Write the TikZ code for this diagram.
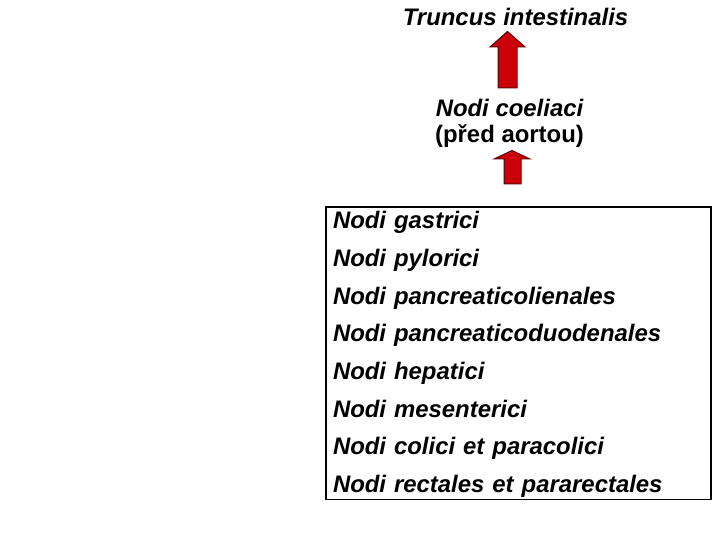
\documentclass[tikz,border=0pt]{standalone}
\usepackage{fontspec}
\setmainfont{Liberation Sans}
\usepackage{tikz}
\usetikzlibrary{positioning}

\definecolor{arrowred}{RGB}{204,0,8}
\definecolor{arrowrim}{RGB}{96,0,0}

\tikzset{
  station/.style={font=\fontsize{24}{26}\selectfont\bfseries, inner sep=0pt, align=center},
  lymph/.style={font=\fontsize{24}{26}\selectfont\bfseries\itshape, inner sep=0pt,
                text width=340bp, align=left, text height=18bp, text depth=6bp},
  redarrow/.style={fill=arrowred, draw=arrowrim, line width=1bp, line join=miter}
}

\begin{document}
\begin{tikzpicture}[x=1bp, y=-1bp, node distance=37.6bp]

\useasboundingbox (0,0) rectangle (720,540);

\node [station, anchor=base] (truncus)  at (515.5,26)  {\itshape Truncus intestinalis};
\node [station, anchor=base] (coeliaci) at (509.5,142.5) {\itshape Nodi coeliaci\\(před aortou)};

\node [lymph                    ] (gastrici)   at (503,223) {Nodi gastrici};
\node [lymph, below of=gastrici ] (pylorici)   {Nodi pylorici};
\node [lymph, below of=pylorici ] (lienales)   {Nodi pancreaticolienales};
\node [lymph, below of=lienales ] (duodenales) {Nodi pancreaticoduodenales};
\node [lymph, below of=duodenales] (hepatici)  {Nodi hepatici};
\node [lymph, below of=hepatici ] (mesenterici) {Nodi mesenterici};
\node [lymph, below of=mesenterici] (colici)   {Nodi colici et paracolici};
\node [lymph, below of=colici   ] (rectales)   {Nodi rectales et pararectales};

\draw [line width=1.2bp] (326,207) rectangle (711,499.5);

\draw [redarrow] (498,88) -- (498,47) -- (490,47) -- (507.5,31.5) -- (525,47) -- (517,47) -- (517,88) -- cycle;
\draw [redarrow] (504,184) -- (504,159) -- (494,159) -- (512,150.5) -- (530,159) -- (521,159) -- (521,184) -- cycle;

\end{tikzpicture}
\end{document}
